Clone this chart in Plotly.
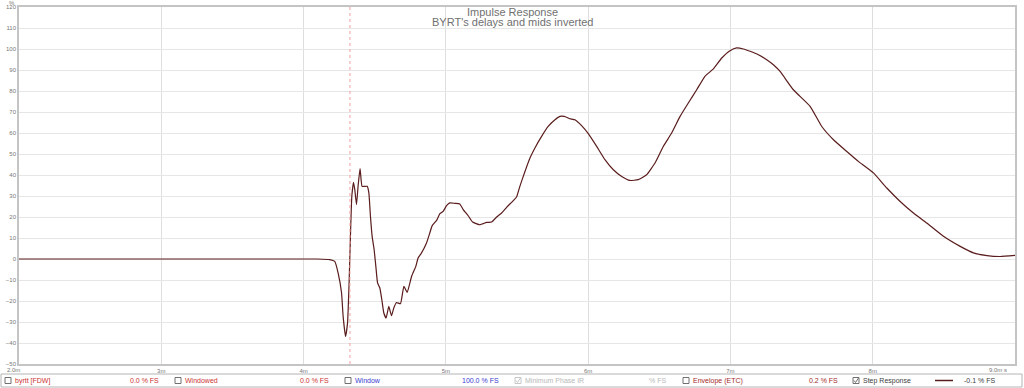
import plotly.graph_objects as go

# ---- data ----
time_ms = [2.0, 4.10, 4.184, 4.219, 4.243, 4.267, 4.278, 4.295, 4.309, 4.320,
           4.330, 4.339, 4.351, 4.360, 4.372, 4.383, 4.397, 4.411, 4.430, 4.447,
           4.459, 4.470, 4.482, 4.496, 4.508, 4.520, 4.536, 4.550, 4.564, 4.580,
           4.599, 4.618, 4.634, 4.653, 4.681, 4.705, 4.728, 4.759, 4.789, 4.805,
           4.829, 4.864, 4.887, 4.904, 4.935, 4.958, 4.981, 5.005, 5.028, 5.063,
           5.098, 5.122, 5.157, 5.188, 5.239, 5.286, 5.321, 5.357, 5.392, 5.427,
           5.462, 5.497, 5.520, 5.556, 5.591, 5.626, 5.673, 5.719, 5.767, 5.802,
           5.832, 5.872, 5.907, 5.954, 6.001, 6.060, 6.118, 6.177, 6.236, 6.294,
           6.352, 6.411, 6.470, 6.528, 6.587, 6.646, 6.704, 6.763, 6.821, 6.880,
           6.939, 6.997, 7.044, 7.091, 7.138, 7.196, 7.255, 7.302, 7.349, 7.442,
           7.560, 7.642, 7.724, 7.818, 7.899, 8.005, 8.099, 8.193, 8.286, 8.380,
           8.497, 8.615, 8.708, 8.803, 8.896, 9.0]
step_pct = [0, 0, -0.3, -1.1, -6.7, -16.2, -27.3, -36.9, -30.5, -11.4,
            12.4, 29.8, 36.5, 33.0, 25.9, 34.6, 43.0, 34.6, 34.6, 34.6,
            31.4, 20.3, 10.8, 4.4, -3.5, -11.4, -13.8, -19.4, -25.7, -28.1,
            -22.6, -27.0, -23.3, -20.7, -21.3, -13.0, -15.9, -8.3, -3.5, 0.5,
            2.9, 7.6, 12.4, 15.9, 18.4, 21.6, 22.7, 25.4, 26.7, 26.5,
            26.2, 23.5, 20.6, 17.6, 16.3, 17.4, 17.6, 20.0, 21.9, 24.6,
            27.0, 29.5, 34.6, 41.7, 48.1, 52.9, 58.4, 63.1, 66.3, 67.9,
            67.9, 66.8, 66.3, 63.5, 59.7, 53.6, 47.3, 42.5, 39.3, 37.4,
            37.8, 40.1, 45.7, 53.6, 60.0, 67.9, 74.3, 80.6, 87.0, 90.5,
            95.7, 99.2, 100.5, 100.0, 98.9, 97.3, 94.9, 92.5, 89.3, 80.6,
            72.7, 63.1, 56.8, 51.2, 46.5, 41.0, 33.8, 27.4, 21.9, 17.1,
            10.8, 6.0, 2.9, 1.6, 1.2, 1.7]
window_marker_ms = 4.326

x_tick_vals = [3, 4, 5, 6, 7, 8]
x_tick_text = ["3m", "4m", "5m", "6m", "7m", "8m"]
y_tick_vals = list(range(-50, 121, 10))

title_line1 = "Impulse Response"
title_line2 = "BYRT's delays and mids inverted"

legend_items = [  # (label, value text, colour, checked)
    ("byrtt [FDW]", "0.0 % FS", "#cc3333", False),
    ("Windowed", "0.0 % FS", "#cc3333", False),
    ("Window", "100.0 % FS", "#3a3ad0", False),
    ("Minimum Phase IR", "% FS", "#b8b8b8", True),
    ("Envelope (ETC)", "0.2 % FS", "#a52a2a", False),
    ("Step Response", "-0.1 % FS", "#404040", True),
]

# ---- layout geometry ----
W, H = 1024, 388
ML, MR, MT, MB = 19, 9, 7, 24
PW, PH = W - ML - MR, H - MT - MB
CURVE = "#5a1c1c"
FONT = "Liberation Sans, Arial, sans-serif"


def px(x):
    return (x - ML) / PW


def py(y):
    return (H - MB - y) / PH


fig = go.Figure()
fig.add_trace(go.Scatter(x=time_ms, y=step_pct, mode="lines",
                         line=dict(color=CURVE, width=1.2, shape="spline", smoothing=0.4),
                         hoverinfo="skip", showlegend=False))

shapes = []
annotations = []

# window marker
shapes.append(dict(type="line", xref="x", yref="paper", x0=window_marker_ms, x1=window_marker_ms,
                   y0=0, y1=1, line=dict(color="#f3a0a0", width=1, dash="dot")))

# titles
annotations.append(dict(text=title_line1, xref="paper", yref="paper", x=px(512), y=py(12.5),
                        showarrow=False, xanchor="center", yanchor="middle",
                        font=dict(family=FONT, size=11, color="#707070")))
annotations.append(dict(text=title_line2, xref="paper", yref="paper", x=px(512), y=py(22.5),
                        showarrow=False, xanchor="center", yanchor="middle",
                        font=dict(family=FONT, size=11, color="#707070")))

# axis end labels
annotations.append(dict(text="2.0m", xref="paper", yref="paper", x=px(5), y=py(369.5),
                        showarrow=False, xanchor="left", yanchor="middle",
                        font=dict(family=FONT, size=6, color="#777777")))
annotations.append(dict(text="9.0m s", xref="paper", yref="paper", x=px(1009), y=py(369.5),
                        showarrow=False, xanchor="right", yanchor="middle",
                        font=dict(family=FONT, size=6, color="#777777")))
annotations.append(dict(text="%", xref="paper", yref="paper", x=px(12), y=py(2.5),
                        showarrow=False, xanchor="center", yanchor="middle",
                        font=dict(family=FONT, size=6, color="#777777")))

# bottom legend strip
shapes.append(dict(type="rect", xref="paper", yref="paper", x0=px(1), x1=px(1022),
                   y0=py(387), y1=py(374), line=dict(color="#b4b4b4", width=1),
                   fillcolor="rgba(0,0,0,0)"))
box_x = [5, 175, 345, 515, 683, 853]
value_x = [128, 298, 460, 647, 807, 962]
ly = 380.5
for (label, val, col, checked), bx, vx in zip(legend_items, box_x, value_x):
    bcol = "#c8c8c8" if label == "Minimum Phase IR" else "#707070"
    shapes.append(dict(type="rect", xref="paper", yref="paper", x0=px(bx), x1=px(bx + 6),
                       y0=py(ly + 3), y1=py(ly - 3), line=dict(color=bcol, width=1),
                       fillcolor="white"))
    if checked:
        shapes.append(dict(type="path", xref="paper", yref="paper",
                           path=f"M {px(bx+1)} {py(ly)} L {px(bx+2.5)} {py(ly+2)} L {px(bx+5.5)} {py(ly-2.5)}",
                           line=dict(color=bcol, width=1)))
    annotations.append(dict(text=label, xref="paper", yref="paper", x=px(bx + 8), y=py(ly),
                            showarrow=False, xanchor="left", yanchor="middle",
                            font=dict(family=FONT, size=7, color=col)))
    annotations.append(dict(text=val, xref="paper", yref="paper", x=px(vx), y=py(ly),
                            showarrow=False, xanchor="left", yanchor="middle",
                            font=dict(family=FONT, size=7, color=col)))
# step response line sample
shapes.append(dict(type="line", xref="paper", yref="paper", x0=px(935), x1=px(953),
                   y0=py(ly), y1=py(ly), line=dict(color=CURVE, width=1.5)))

fig.update_layout(
    width=W, height=H, autosize=False,
    margin=dict(l=ML, r=MR, t=MT, b=MB, pad=0, autoexpand=False),
    paper_bgcolor="white", plot_bgcolor="white",
    showlegend=False,
    shapes=shapes, annotations=annotations,
    xaxis=dict(range=[2, 9], tickvals=x_tick_vals, ticktext=x_tick_text,
               showgrid=True, gridcolor="#dedede", gridwidth=1, zeroline=False,
               showline=True, mirror=True, linecolor="#c4c4c4", linewidth=1.5,
               ticks="", automargin=False,
               tickfont=dict(family=FONT, size=6, color="#777777")),
    yaxis=dict(range=[-50, 120], tickvals=y_tick_vals,
               showgrid=True, gridcolor="#e6e6e6", gridwidth=1, zeroline=False,
               showline=True, mirror=True, linecolor="#c4c4c4", linewidth=1.5,
               ticks="", automargin=False,
               tickfont=dict(family=FONT, size=6, color="#777777")),
)

fig.write_html("out.html", config={"displayModeBar": False},
               post_script="document.body.style.margin='0';document.body.style.overflow='hidden';")
